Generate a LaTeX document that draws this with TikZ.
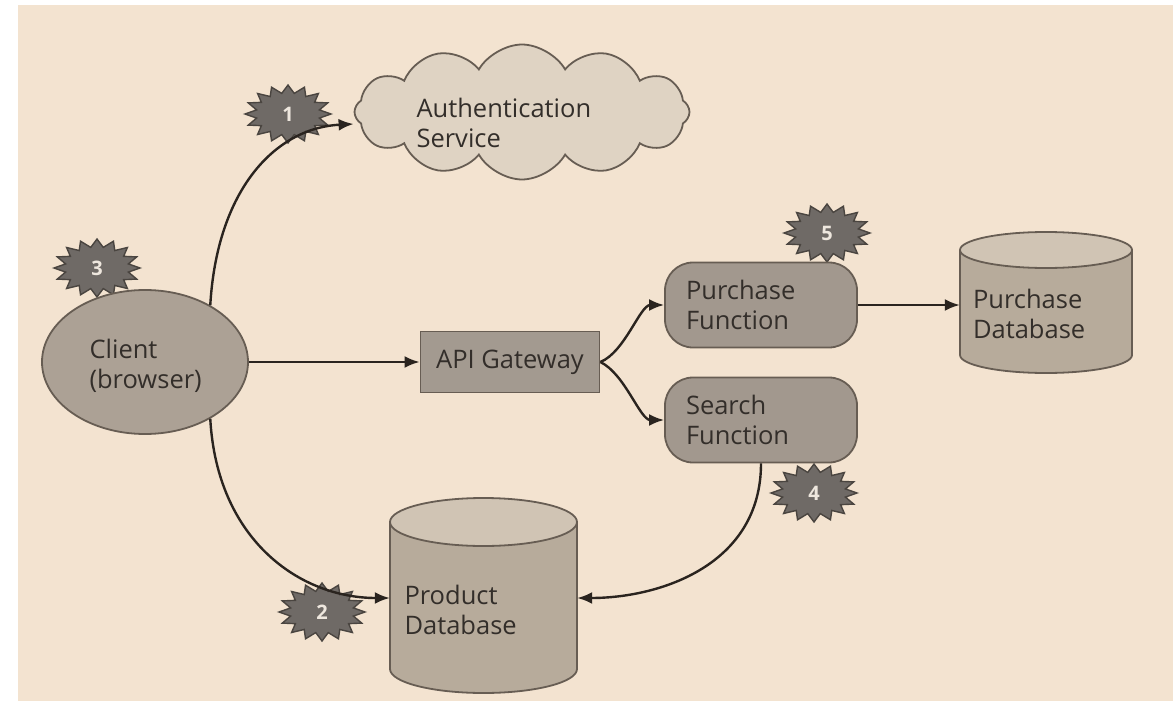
\documentclass[tikz,border=0pt]{standalone}
\usepackage{fontspec}
\setmainfont{Open Sans}
\usetikzlibrary{shapes.geometric,shapes.symbols,arrows.meta}
\definecolor{bgc}{HTML}{F3E3D0}
\definecolor{edgec}{HTML}{675D53}
\definecolor{linec}{HTML}{2A241F}
\definecolor{txt}{HTML}{332E2A}
\definecolor{clientc}{HTML}{ACA195}
\definecolor{funcc}{HTML}{A2988E}
\definecolor{apic}{HTML}{A39A90}
\definecolor{bodyc}{HTML}{B7AB9B}
\definecolor{topc}{HTML}{D0C4B4}
\definecolor{cloudc}{HTML}{DFD3C3}
\definecolor{starc}{HTML}{6F6A66}
\definecolor{stared}{HTML}{4A4540}
\definecolor{startxt}{HTML}{EEE7DE}
\newcommand\burst[4]{%
  \begin{scope}[shift={(#2,#3)}]
    \filldraw[fill=starc,draw=stared,line width=1.4pt]
      plot[samples=33,domain=0:32,variable=\k]
      ({ifthenelse(mod(round(\k),2)==0,43,32)*cos(\k*11.25)},
       {ifthenelse(mod(round(\k),2)==0,29,21)*sin(\k*11.25)}) -- cycle;
  \end{scope}
  \node[startext] (#1) at (#2,#3) {#4};}
\newcommand\cylbody[5]{% cx, rx, ytop, ybot, ry
  \filldraw[fill=bodyc,draw=edgec,line width=1.8pt] (#1,#4-#5) ellipse [x radius=#2, y radius=#5];
  \fill[bodyc] (#1-#2,#3+#5) rectangle (#1+#2,#4-#5);
  \draw[edgec,line width=1.8pt] (#1-#2,#3+#5) -- (#1-#2,#4-#5) (#1+#2,#3+#5) -- (#1+#2,#4-#5);
  \filldraw[fill=topc,draw=edgec,line width=1.8pt] (#1,#3+#5) ellipse [x radius=#2, y radius=#5];}
\begin{document}
\begin{tikzpicture}[x=1pt,y=-1pt,
  font=\fontsize{25.5}{30}\selectfont, text=txt,
  shapeline/.style={draw=edgec, line width=1.8pt},
  startext/.style={font=\fontsize{20}{20}\selectfont\bfseries, text=startxt, inner sep=0pt},
  conn/.style={draw=linec, line width=2.4pt, -{Latex[length=15pt,width=12pt]}},
  func/.style={rectangle, rounded corners=28pt, fill=funcc, shapeline, minimum width=192pt,
    minimum height=85pt, text width=150pt, align=left, inner sep=0pt},
  dbbox/.style={rectangle, inner sep=0pt, align=left}]
\useasboundingbox (0,0) rectangle (1173,701);
\fill[white] (0,0) rectangle (1173,701);
\fill[bgc] (18,5) rectangle (1173,701);

% burst markers (behind shapes)
\burst{s1}{288}{114}{1}
\burst{s2}{322}{612}{2}
\burst{s3}{97}{268}{3}
\burst{s4}{814}{493}{4}
\burst{s5}{827}{233}{5}

% shapes
\node[ellipse, fill=clientc, shapeline, minimum width=206pt, minimum height=144pt, align=left] (client) at (145,362) {};
\node[align=left, anchor=west] (clienttxt) at (86,366) {Client\\(browser)};
\node[cloud, cloud puffs=12, cloud puff arc=120, aspect=2.5, fill=cloudc, shapeline,
  minimum width=335pt, minimum height=135pt] (auth) at (522,112) {};
\node[align=left, anchor=west] (authtxt) at (413,123) {Authentication\\Service};
\node[rectangle, fill=apic, shapeline, minimum width=179pt, minimum height=61pt] (api) at (510,362) {API Gateway};
\node[func] (purch) at (761,305) {Purchase\\Function};
\node[func] (search) at (761,420) {Search\\Function};

\cylbody{1046}{86}{232}{373}{18}
\node[dbbox, minimum width=172pt, minimum height=120pt, text width=146pt] (pdb) at (1046,314) {Purchase\\Database};
\cylbody{483.5}{93.5}{498}{693}{24}
\node[dbbox, minimum width=187pt, minimum height=150pt, text width=158pt] (prodb) at (483.5,610) {Product\\Database};

% connectors
\draw[conn] (client.41) .. controls (217,190) and (275,128) .. ([yshift=-12pt]auth.west);
\draw[conn] (client.-41) .. controls (217,540) and (300,598) .. ([yshift=12pt]prodb.west);
\draw[conn] (client.east) -- (api.west);
\draw[conn] (api.east) .. controls (625,352) and (640,305) .. (purch.west);
\draw[conn] (api.east) .. controls (625,374) and (640,420) .. (search.west);
\draw[conn] (purch.east) -- (purch.east -| pdb.west);
\draw[conn] (search.south) .. controls (761,565) and (660,598) .. ([yshift=12pt]prodb.east);
\end{tikzpicture}
\end{document}
